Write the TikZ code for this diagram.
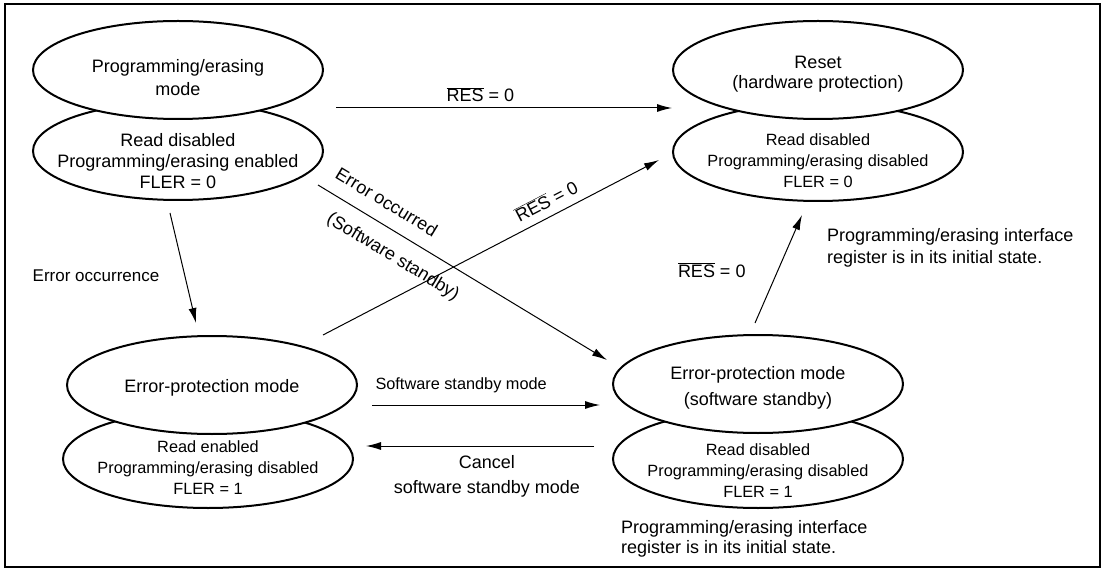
\documentclass[tikz,border=0pt]{standalone}
\usepackage{fontspec}
\setmainfont{Liberation Sans}
\usetikzlibrary{arrows.meta,positioning,calc,shapes.geometric}
\tikzset{st/.style={draw,ellipse,line width=2pt,fill=white,minimum width=290pt,minimum height=98pt,inner sep=0pt},
 txt/.style={align=center,inner sep=1pt,font=\fontsize{18}{21}\selectfont},
 txs/.style={txt,font=\fontsize{16.3}{21}\selectfont},
 lab/.style={align=center,inner sep=1pt,font=\fontsize{18}{25}\selectfont},
 flow/.style={-{Latex[length=15pt,width=8pt]},line width=1pt}}

\begin{document}
\begin{tikzpicture}[x=1pt,y=-1pt]
\useasboundingbox (0,0) rectangle (1103,569);
\draw[line width=2.2pt] (5,4) rectangle (1100,567);
% state pairs, lower ellipse first
\node[st] (pgmB) at (178,151) {};
\node[st] (pgmA) at (178,70) {};
\node[txt,font=\fontsize{18}{23}\selectfont] (pgmAt) at (178,78) {Programming/erasing\\mode};
\node[txt] (pgmBt) at (178,161) {Read disabled\\Programming/erasing enabled\\FLER = 0};
\node[st] (rstB) at (818,152) {};
\node[st] (rstA) at (818,70) {};
\node[txt,font=\fontsize{18}{20.5}\selectfont] (rstAt) at (818,74) {Reset\\(hardware protection)};
\node[txs] (rstBt) at (818,161) {Read disabled\\Programming/erasing disabled\\FLER = 0};
\node[st] (errB) at (208,459) {};
\node[st] (errA) at (212,385) {};
\node[txt] (errAt) at (212,388) {Error-protection mode};
\node[txs] (errBt) at (208,468) {Read enabled\\Programming/erasing disabled\\FLER = 1};
\node[st] (sbyB) at (758,459) {};
\node[st] (sbyA) at (758,384) {};
\node[txt,font=\fontsize{18}{26.5}\selectfont] (sbyAt) at (758,388) {Error-protection mode\\(software standby)};
\node[txs] (sbyBt) at (758,471) {Read disabled\\Programming/erasing disabled\\FLER = 1};
% arrow ends
\coordinate (resH1) at (336,108); \coordinate (resH2) at (672,108);
\coordinate (resD1) at (323,335); \coordinate (resD2) at (659,160);
\coordinate (eoc1) at (318,185);  \coordinate (eoc2) at (607,360);
\coordinate (eo1) at (170,213);   \coordinate (eo2) at (196,323);
\coordinate (sb1) at (372,405);   \coordinate (sb2) at (600,405);
\coordinate (cn1) at (594,446);   \coordinate (cn2) at (366,446);
\coordinate (resU1) at (755,323); \coordinate (resU2) at (802,215);
% transitions
\draw[flow] (resH1) -- node[lab,pos=.43,above=4.5pt]{$\overline{\mbox{RES}}$ = 0} (resH2);
\draw[flow] (resD1) -- node[lab,sloped,pos=.686,above=7pt]{$\overline{\mbox{RES}}$ = 0} (resD2);
\draw[flow] (eoc1) -- node[lab,sloped,pos=.2,above=13pt]{Error occurred}
 node[lab,sloped,pos=.3,below=13pt]{(Software standby)} (eoc2);
\draw[flow] (eo1) -- node[lab,font=\fontsize{17}{20}\selectfont,pos=.57,left=24pt]{Error occurrence} (eo2);
\draw[flow] (sb1) -- node[lab,font=\fontsize{16.3}{20}\selectfont,pos=0,above right=11pt and 2pt]{Software standby mode} (sb2);
\draw[flow] (cn1) -- node[lab,pos=.47,below=8pt]{Cancel\\software standby mode} (cn2);
\draw[flow] (resU1) -- node[lab,pos=.49,left=31pt]{$\overline{\mbox{RES}}$ = 0} (resU2);
% notes
\node[lab,align=left,anchor=north west,font=\fontsize{18}{22}\selectfont] (noteR) at (826,227.5)
 {Programming/erasing interface\\register is in its initial state.};
\node[lab,align=left,anchor=north west,font=\fontsize{18}{20}\selectfont] (noteB) at (620,519.5)
 {Programming/erasing interface\\register is in its initial state.};
\end{tikzpicture}
\end{document}
